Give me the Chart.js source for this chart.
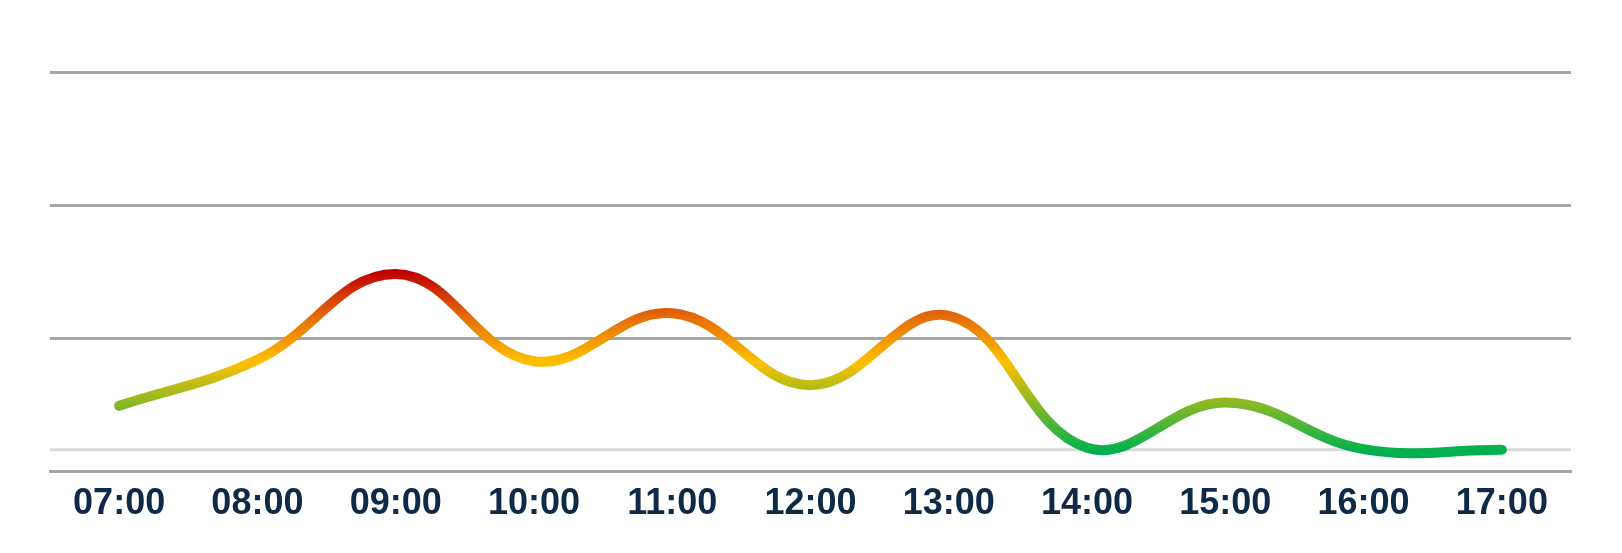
<!DOCTYPE html>
<html>
<head>
  <meta charset="UTF-8"/>
  <title>Hourly trend</title>
  <style>
    html, body { margin: 0; padding: 0; background: #fff; }
    #wrap { width: 1622px; height: 553px; }
  </style>
  <script src="https://cdn.jsdelivr.net/npm/chart.js"></script>
</head>
<body>
  <div id="wrap"><canvas id="myChart" width="1622" height="553"></canvas></div>
  <script>
    // data
    const hours = ['07:00', '08:00', '09:00', '10:00', '11:00', '12:00', '13:00', '14:00', '15:00', '16:00', '17:00'];
    const values = [9.9, 16.8, 29.7, 16.6, 23.8, 13.0, 23.4, 3.6, 10.4, 3.4, 3.3];
    const yMin = 0, yMax = 60, yStep = 20;
    const refLine = 3.3; // light reference line near the bottom

    // colour the line by value: green low, yellow middle, red high
    function lineGradient(ctx) {
      const chart = ctx.chart;
      const area = chart.chartArea;
      if (!area) return '#f5bf00';
      const y = chart.scales.y;
      const g = chart.ctx.createLinearGradient(0, y.getPixelForValue(3), 0, y.getPixelForValue(30));
      g.addColorStop(0, '#00b050');
      g.addColorStop(0.5, '#ffc000');
      g.addColorStop(0.75, '#e46c0a');
      g.addColorStop(1, '#c00000');
      return g;
    }

    // light horizontal line at refLine
    const refLinePlugin = {
      id: 'refLine',
      beforeDatasetsDraw(chart) {
        const c = chart.ctx, a = chart.chartArea;
        const py = chart.scales.y.getPixelForValue(refLine);
        c.save();
        c.strokeStyle = '#d9d9d9';
        c.lineWidth = 3;
        c.beginPath();
        c.moveTo(a.left, py);
        c.lineTo(a.right, py);
        c.stroke();
        c.restore();
      }
    };

    const ctx = document.getElementById('myChart').getContext('2d');
    const chart = new Chart(ctx, {
      type: 'line',
      data: {
        labels: hours,
        datasets: [{
          data: values,
          borderColor: lineGradient,
          borderWidth: 10,
          borderCapStyle: 'round',
          borderJoinStyle: 'round',
          tension: 0.4,
          pointRadius: 0,
          fill: false
        }]
      },
      plugins: [refLinePlugin],
      options: {
        responsive: false,
        animation: false,
        layout: { padding: { left: 50, right: 51, top: 72, bottom: 16 } },
        plugins: { legend: { display: false }, tooltip: { enabled: false } },
        scales: {
          x: {
            offset: true,
            grid: { display: false, drawTicks: false },
            border: { display: true, color: '#a6a6a6', width: 3 },
            ticks: {
              padding: 11,
              color: '#0e2a47',
              font: { family: '"Liberation Sans", Arial, sans-serif', size: 36, weight: 'bold' },
              maxRotation: 0,
              autoSkip: false
            }
          },
          y: {
            min: yMin,
            max: yMax,
            ticks: { display: false, stepSize: yStep },
            grid: { color: '#a6a6a6', lineWidth: 3, drawTicks: false },
            border: { display: false }
          }
        }
      }
    });
  </script>
</body>
</html>
